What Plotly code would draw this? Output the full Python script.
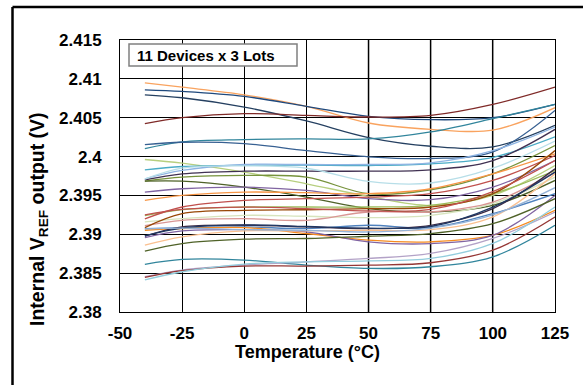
import plotly.graph_objects as go

# ---- data ----
temps = [-40, -25, 0, 25, 50, 75, 100, 125]

s01 = [2.40949, 2.40893, 2.40795, 2.40646, 2.40432, 2.40351, 2.40340, 2.40629]
s02 = [2.40859, 2.40838, 2.40774, 2.40646, 2.40518, 2.40475, 2.40500, 2.40671]
s03 = [2.40795, 2.40757, 2.40637, 2.40458, 2.40244, 2.40133, 2.40125, 2.40402]
s04 = [2.40424, 2.40500, 2.40552, 2.40530, 2.40509, 2.40530, 2.40671, 2.40893]
s05 = [2.40103, 2.40190, 2.40219, 2.40227, 2.40227, 2.40317, 2.40488, 2.40671]
s06 = [2.40155, 2.40184, 2.40167, 2.40077, 2.39997, 2.39975, 2.40060, 2.40594]
s07 = [2.39962, 2.39915, 2.39799, 2.39650, 2.39488, 2.39372, 2.39500, 2.39885]
s08 = [2.39829, 2.39872, 2.39889, 2.39889, 2.39885, 2.39906, 2.39991, 2.40253]
s09 = [2.39714, 2.39821, 2.39898, 2.39898, 2.39898, 2.39920, 2.40077, 2.40380]
s10 = [2.39701, 2.39778, 2.39812, 2.39812, 2.39812, 2.39829, 2.39949, 2.40350]
s11 = [2.39684, 2.39735, 2.39757, 2.39735, 2.39522, 2.39573, 2.39778, 2.40141]
s12 = [2.39684, 2.39684, 2.39607, 2.39479, 2.39330, 2.39287, 2.39372, 2.39693]
s13 = [2.39543, 2.39586, 2.39607, 2.39564, 2.39458, 2.39445, 2.39607, 2.39949]
s14 = [2.39436, 2.39500, 2.39543, 2.39535, 2.39522, 2.39586, 2.39778, 2.40034]
s15 = [2.39240, 2.39317, 2.39351, 2.39351, 2.39351, 2.39372, 2.39522, 2.39821]
s16 = [2.39197, 2.39351, 2.39436, 2.39458, 2.39479, 2.39522, 2.39693, 2.40013]
s17 = [2.39159, 2.39201, 2.39244, 2.39232, 2.39214, 2.39244, 2.39394, 2.39735]
s18 = [2.39112, 2.39180, 2.39201, 2.39180, 2.39287, 2.39287, 2.39415, 2.39799]
s19 = [2.39086, 2.39266, 2.39308, 2.39316, 2.39330, 2.39351, 2.39522, 2.40077]
s20 = [2.39073, 2.39086, 2.39095, 2.39073, 2.39116, 2.39086, 2.39266, 2.39522]
s21 = [2.39052, 2.39073, 2.39086, 2.39010, 2.38924, 2.38903, 2.38988, 2.39308]
s22 = [2.38975, 2.39095, 2.39116, 2.39095, 2.39073, 2.39116, 2.39330, 2.39842]
s23 = [2.38958, 2.39043, 2.39060, 2.39030, 2.38903, 2.38881, 2.38988, 2.39500]
s24 = [2.38860, 2.38967, 2.39043, 2.39043, 2.39052, 2.39060, 2.39223, 2.39778]
s25 = [2.38783, 2.38881, 2.38937, 2.38946, 2.38975, 2.39009, 2.39137, 2.39458]
s26 = [2.38612, 2.38676, 2.38668, 2.38604, 2.38561, 2.38582, 2.38710, 2.39116]
s27 = [2.38454, 2.38540, 2.38604, 2.38646, 2.38689, 2.38753, 2.38946, 2.39287]
s28 = [2.38446, 2.38531, 2.38591, 2.38591, 2.38604, 2.38634, 2.38796, 2.39223]
s29 = [2.38412, 2.38518, 2.38617, 2.38646, 2.38659, 2.38689, 2.38882, 2.39351]
s30 = [2.39710, 2.39850, 2.39880, 2.39850, 2.39680, 2.39660, 2.39850, 2.40200]
s31 = [2.39250, 2.39320, 2.39350, 2.39330, 2.39300, 2.39320, 2.39550, 2.39950]
s32 = [2.38980, 2.39080, 2.39120, 2.39100, 2.39080, 2.39100, 2.39350, 2.39800]
s33 = [2.39070, 2.39080, 2.39060, 2.39050, 2.39030, 2.39080, 2.39250, 2.39600]

series = [s01, s02, s03, s04, s05, s06, s07, s08, s09, s10, s11,
          s12, s13, s14, s15, s16, s17, s18, s19, s20, s21, s22,
          s23, s24, s25, s26, s27, s28, s29, s30, s31, s32, s33]

colors = ["#F9A35F", "#1F497D", "#254061", "#7F2A28", "#31859C", "#376092",
          "#B7CF7F", "#4BACC6", "#8EB4E3", "#403152", "#77933C", "#4F6228",
          "#8064A2", "#F79646", "#9BBB59", "#C0504D", "#D7E4BD", "#D99694",
          "#984807", "#4F81BD", "#F68B1F", "#3B2B45", "#8064A2", "#FAC090",
          "#4F6228", "#31859C", "#B3A2C7", "#953735", "#93CDDD", "#B7DEE8",
          "#C0504D", "#1F3864", "#95B3D7"]

x_ticks = [-50, -25, 0, 25, 50, 75, 100, 125]
y_ticks = [2.38, 2.385, 2.39, 2.395, 2.4, 2.405, 2.41, 2.415]
y_labels = ["2.38", "2.385", "2.39", "2.395", "2.4", "2.405", "2.41", "2.415"]

# ---- figure ----
W, H = 583, 385
L, R, T, B = 120, 28, 40, 73
fig = go.Figure()
for vals, col in zip(series, colors):
    fig.add_trace(go.Scatter(x=temps, y=vals, mode="lines",
                             line=dict(color=col, width=1.3, shape="spline", smoothing=1.0),
                             showlegend=False, hoverinfo="skip"))

font_family = "Liberation Sans, Arial, sans-serif"
tickfont = dict(family=font_family, size=17, color="black", weight="bold")

fig.update_layout(
    width=W, height=H,
    margin=dict(l=L, r=R, t=T, b=B, pad=0),
    paper_bgcolor="white", plot_bgcolor="white",
    xaxis=dict(range=[-50, 125], tickvals=x_ticks, ticktext=[str(v) for v in x_ticks],
               showgrid=True, gridcolor="black", gridwidth=1, zeroline=False,
               showline=True, linecolor="black", linewidth=1, mirror=True,
               ticks="", tickfont=tickfont, ticklabelstandoff=6),
    yaxis=dict(range=[2.38, 2.415], tickvals=y_ticks, ticktext=y_labels,
               showgrid=True, gridcolor="black", gridwidth=1, zeroline=False,
               showline=True, linecolor="black", linewidth=1, mirror=True,
               ticks="", tickfont=tickfont, ticklabelstandoff=14),
)

pw = W - L - R
ph = H - T - B

def px(xp):
    return (xp - L) / pw

def py(yp):
    return (H - B - yp) / ph

shapes = []
for xv in [50, 75, 100]:
    shapes.append(dict(type="line", xref="x", yref="paper", x0=xv, x1=xv, y0=0, y1=1,
                       line=dict(color="#808080", width=2), layer="below"))
# outer frame (only top and left edges visible)
shapes.append(dict(type="line", xref="paper", yref="paper", x0=px(12.5), x1=px(590),
                   y0=py(7), y1=py(7), line=dict(color="black", width=2.5)))
shapes.append(dict(type="line", xref="paper", yref="paper", x0=px(12.5), x1=px(12.5),
                   y0=py(7), y1=py(392), line=dict(color="black", width=2.5)))
# label box
shapes.append(dict(type="rect", xref="paper", yref="paper", x0=px(129), x1=px(297),
                   y0=py(66), y1=py(44), line=dict(color="#808080", width=1.5),
                   fillcolor="white", layer="above"))
fig.update_layout(shapes=shapes)

fig.add_annotation(text="11 Devices x 3 Lots", xref="paper", yref="paper",
                   x=px(135), y=py(55.5), xanchor="left", yanchor="middle", showarrow=False,
                   font=dict(family=font_family, size=15, color="black", weight="bold"))
fig.add_annotation(text="Temperature (°C)", xref="paper", yref="paper",
                   x=px(307), y=py(352), xanchor="center", yanchor="middle", showarrow=False,
                   font=dict(family=font_family, size=18, color="black", weight="bold"))
fig.add_annotation(text="Internal V<sub>REF</sub> output (V)", xref="paper", yref="paper",
                   x=px(38), y=py(219), xanchor="center", yanchor="middle", showarrow=False,
                   textangle=-90,
                   font=dict(family=font_family, size=19.5, color="black", weight="bold"))

fig.write_html("out.html", config={"displayModeBar": False},
               post_script="document.body.style.margin='0';document.body.style.overflow='hidden';")
